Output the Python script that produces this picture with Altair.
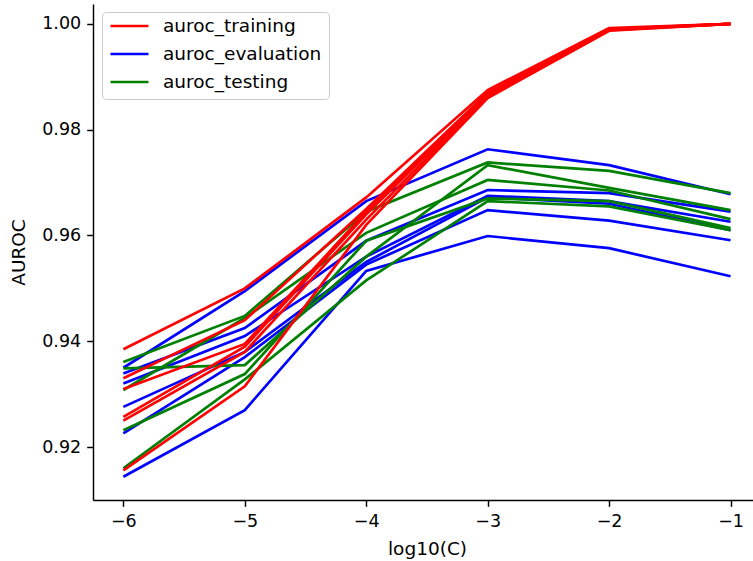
import altair as alt
import pandas as pd

# log10 of the regularisation strength C
log_c = [-6, -5, -4, -3, -2, -1]

# AUROC per fold and split
auroc_training = [
    [0.9385, 0.9500, 0.9672, 0.9875, 0.9992, 1.0000],
    [0.9330, 0.9440, 0.9650, 0.9870, 0.9990, 1.0000],
    [0.9310, 0.9395, 0.9645, 0.9868, 0.9990, 1.0000],
    [0.9257, 0.9390, 0.9640, 0.9865, 0.9989, 1.0000],
    [0.9250, 0.9380, 0.9630, 0.9862, 0.9988, 1.0000],
    [0.9156, 0.9315, 0.9620, 0.9860, 0.9987, 1.0000],
]
auroc_evaluation = [
    [0.9350, 0.9495, 0.9665, 0.9763, 0.9733, 0.9678],
    [0.9339, 0.9425, 0.9590, 0.9686, 0.9680, 0.9645],
    [0.9320, 0.9410, 0.9560, 0.9675, 0.9665, 0.9626],
    [0.9276, 0.9380, 0.9550, 0.9672, 0.9660, 0.9610],
    [0.9226, 0.9370, 0.9545, 0.9648, 0.9628, 0.9591],
    [0.9144, 0.9270, 0.9533, 0.9599, 0.9576, 0.9523],
]
auroc_testing = [
    [0.9361, 0.9448, 0.9645, 0.9738, 0.9722, 0.9680],
    [0.9349, 0.9355, 0.9560, 0.9733, 0.9690, 0.9648],
    [0.9308, 0.9444, 0.9605, 0.9705, 0.9685, 0.9631],
    [0.9232, 0.9338, 0.9590, 0.9670, 0.9665, 0.9614],
    [0.9160, 0.9328, 0.9515, 0.9665, 0.9655, 0.9610],
]

series_names = ["auroc_training", "auroc_evaluation", "auroc_testing"]
series_colors = ["red", "blue", "green"]
y_ticks = [0.92, 0.94, 0.96, 0.98, 1.00]

rows = []
for name, folds in zip(series_names,
                       [auroc_training, auroc_evaluation, auroc_testing]):
    for k, vals in enumerate(folds):
        for c, v in zip(log_c, vals):
            rows.append({"series": name, "run": f"{name}_{k}", "logC": c, "auroc": v})
df = pd.DataFrame(rows)

FONT = "DejaVu Sans"
FS_TICK = 17.5
FS_TEXT = 18.5

color = alt.Color(
    "series:N",
    scale=alt.Scale(domain=series_names, range=series_colors),
    legend=alt.Legend(
        title=None,
        orient="none",
        legendX=9,
        legendY=8,
        symbolType="stroke",
        symbolSize=1444,
        symbolStrokeWidth=2.7,
        labelOffset=13,
        labelFontSize=FS_TEXT,
        labelFont=FONT,
        labelColor="black",
        clipHeight=14,
        rowPadding=9,
        padding=7,
        fillColor="white",
        strokeColor="#cccccc",
        cornerRadius=4,
    ),
)

x = alt.X(
    "logC:Q",
    scale=alt.Scale(domain=[-6.25, -0.815], nice=False, zero=False),
    axis=alt.Axis(
        values=log_c, format="d", title="log10(C)", grid=False,
        titleY=48, titleX=334, titleBaseline="middle",
    ),
)
y = alt.Y(
    "auroc:Q",
    scale=alt.Scale(domain=[0.910, 1.00376], nice=False, zero=False),
    axis=alt.Axis(values=y_ticks, format=".2f", title="AUROC", grid=False,
                  titleX=-75, titleBaseline="middle"),
)

base = alt.Chart(df).mark_line(strokeWidth=2.7, clip=True).encode(
    x=x, y=y, color=color, detail="run:N"
)

layers = [
    base.transform_filter(alt.datum.series == "auroc_evaluation"),
    base.transform_filter(alt.datum.series == "auroc_testing"),
    base.transform_filter(alt.datum.series == "auroc_training"),
]

chart = (
    alt.layer(*layers)
    .properties(
        width=660,
        height=496,
        autosize=alt.AutoSizeParams(type="none"),
        padding={"left": 93, "top": 4, "right": 0, "bottom": 61},
        background="white",
    )
    .configure_view(stroke=None)
    .configure_axis(
        domainColor="black",
        domainWidth=1.45,
        tickColor="black",
        tickWidth=1.45,
        tickSize=6.3,
        labelFont=FONT,
        labelFontSize=FS_TICK,
        labelColor="black",
        labelPadding=6,
        titleFont=FONT,
        titleFontSize=FS_TEXT,
        titleFontWeight="normal",
        titleColor="black",
    )
)

chart.save("out.html", embed_options={"renderer": "svg", "actions": False})
